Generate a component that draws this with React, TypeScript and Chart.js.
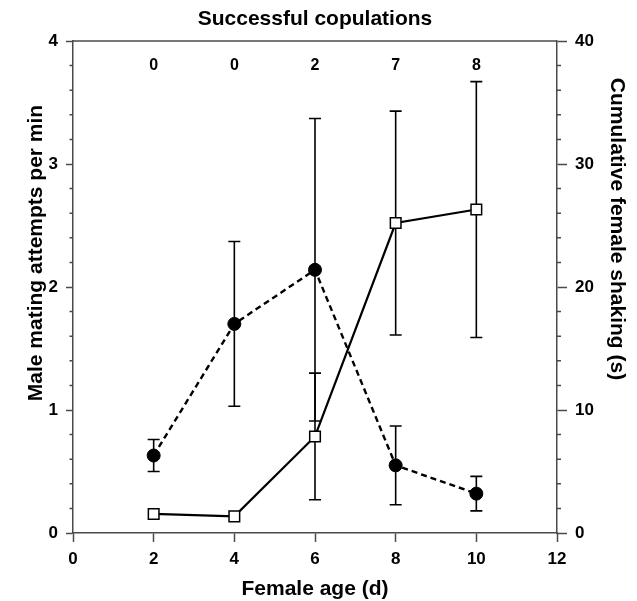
import React, { useEffect, useRef } from "react";
import { Chart, registerables } from "chart.js";

Chart.register(...registerables);

const ages = [2, 4, 6, 8, 10];
const attempts = [0.63, 1.70, 2.14, 0.55, 0.32];
const attemptsErr = [0.13, 0.67, 1.23, 0.32, 0.14];
const shaking = [1.55, 1.35, 7.85, 25.2, 26.3];
const shakingErr = [0, 0, 5.15, 9.1, 10.4];
const copulations = ["0", "0", "2", "7", "8"];

const chartTitle = "Successful copulations";
const xTitle = "Female age (d)";
const leftTitle = "Male mating attempts per min";
const rightTitle = "Cumulative female shaking (s)";

const FONT = "'Liberation Sans', Arial, Helvetica, sans-serif";
const AXIS = "#4a4a4a";

const errorBarPlugin = {
  id: "errorBars",
  beforeDatasetsDraw(chart: any) {
    const { ctx } = chart;
    const xs = chart.scales.x;
    const sets = [
      { scale: chart.scales.y, vals: attempts, errs: attemptsErr },
      { scale: chart.scales.y2, vals: shaking, errs: shakingErr },
    ];
    ctx.save();
    ctx.strokeStyle = "#000";
    ctx.lineWidth = 1.6;
    const cap = 6;
    sets.forEach((s) => {
      ages.forEach((a, i) => {
        const e = s.errs[i];
        if (!e) return;
        const px = xs.getPixelForValue(a);
        const top = s.scale.getPixelForValue(s.vals[i] + e);
        const bot = s.scale.getPixelForValue(s.vals[i] - e);
        ctx.beginPath();
        ctx.moveTo(px, top);
        ctx.lineTo(px, bot);
        ctx.moveTo(px - cap, top);
        ctx.lineTo(px + cap, top);
        ctx.moveTo(px - cap, bot);
        ctx.lineTo(px + cap, bot);
        ctx.stroke();
      });
    });
    ctx.restore();
  },
};

const decorPlugin = {
  id: "decor",
  afterDraw(chart: any) {
    const { ctx, chartArea } = chart;
    const { left, right, top, bottom } = chartArea;
    const ys = chart.scales.y;
    const ys2 = chart.scales.y2;
    const xs = chart.scales.x;
    ctx.save();
    // top border
    ctx.strokeStyle = AXIS;
    ctx.lineWidth = 1.5;
    ctx.beginPath();
    ctx.moveTo(left, top);
    ctx.lineTo(right, top);
    ctx.stroke();
    // minor ticks
    ctx.beginPath();
    for (let k = 1; k < 20; k++) {
      if (k % 5 === 0) continue;
      const y1 = ys.getPixelForValue(k * 0.2);
      ctx.moveTo(left - 3.5, y1);
      ctx.lineTo(left, y1);
      const y2 = ys2.getPixelForValue(k * 2);
      ctx.moveTo(right, y2);
      ctx.lineTo(right + 4, y2);
    }
    ctx.stroke();

    ctx.fillStyle = "#000";
    // copulation counts
    ctx.font = `bold 16px ${FONT}`;
    ctx.textAlign = "center";
    ctx.textBaseline = "middle";
    const cy = ys.getPixelForValue(3.8);
    ages.forEach((a, i) => {
      ctx.fillText(copulations[i], xs.getPixelForValue(a), cy);
    });

    ctx.font = `bold 21px ${FONT}`;
    ctx.textBaseline = "alphabetic";
    const cx = (left + right) / 2;
    ctx.fillText(chartTitle, cx, 25);
    ctx.fillText(xTitle, cx, bottom + 62);

    ctx.save();
    ctx.translate(left - 31, (top + bottom) / 2 - 34);
    ctx.rotate(-Math.PI / 2);
    ctx.fillText(leftTitle, 0, 0);
    ctx.restore();

    ctx.save();
    ctx.translate(right + 54, (top + bottom) / 2 - 58);
    ctx.rotate(Math.PI / 2);
    ctx.fillText(rightTitle, 0, 0);
    ctx.restore();

    ctx.restore();
  },
};

export default function App() {
  const ref = useRef<HTMLCanvasElement | null>(null);

  useEffect(() => {
    if (!ref.current) return;
    const tickFont = { family: FONT, size: 17, weight: "bold" as const };
    const chart = new Chart(ref.current, {
      type: "line",
      data: {
        datasets: [
          {
            label: "Male mating attempts",
            data: ages.map((a, i) => ({ x: a, y: attempts[i] })),
            yAxisID: "y",
            borderColor: "#000",
            borderWidth: 2.4,
            borderDash: [6, 4],
            pointStyle: "circle",
            pointRadius: 6.5,
            pointBackgroundColor: "#000",
            pointBorderColor: "#000",
            pointBorderWidth: 1,
            tension: 0,
          },
          {
            label: "Female shaking",
            data: ages.map((a, i) => ({ x: a, y: shaking[i] })),
            yAxisID: "y2",
            borderColor: "#000",
            borderWidth: 2.2,
            pointStyle: "rect",
            pointRadius: 7.5,
            pointBackgroundColor: "#fff",
            pointBorderColor: "#000",
            pointBorderWidth: 1.5,
            tension: 0,
          },
        ],
      },
      options: {
        animation: false,
        responsive: true,
        maintainAspectRatio: false,
        layout: { padding: { top: 41, left: 0, right: 0, bottom: 0 } },
        plugins: { legend: { display: false }, tooltip: { enabled: false }, title: { display: false } },
        scales: {
          x: {
            type: "linear",
            min: 0,
            max: 12,
            ticks: { stepSize: 2, font: tickFont, color: "#000", padding: 7 },
            grid: { drawOnChartArea: false, color: AXIS, tickLength: 9, tickWidth: 1.5 },
            border: { display: true, color: AXIS, width: 1.5 },
            afterFit: (s: any) => { s.height = 68; },
          },
          y: {
            type: "linear",
            position: "left",
            min: 0,
            max: 4,
            ticks: { stepSize: 1, font: tickFont, color: "#000", padding: 8 },
            grid: { drawOnChartArea: false, color: AXIS, tickLength: 7, tickWidth: 1.5 },
            border: { display: true, color: AXIS, width: 1.5 },
            afterFit: (s: any) => { s.width = 73; },
          },
          y2: {
            type: "linear",
            position: "right",
            min: 0,
            max: 40,
            ticks: { stepSize: 10, font: tickFont, color: "#000", padding: 8 },
            grid: { drawOnChartArea: false, color: AXIS, tickLength: 10, tickWidth: 1.5 },
            border: { display: true, color: AXIS, width: 1.5 },
            afterFit: (s: any) => { s.width = 80; },
          },
        },
      },
      plugins: [errorBarPlugin, decorPlugin],
    });
    return () => chart.destroy();
  }, []);

  return (
    <div style={{ position: "absolute", left: 0, top: 0, width: 637, height: 601, background: "#fff" }}>
      <canvas ref={ref} />
    </div>
  );
}
